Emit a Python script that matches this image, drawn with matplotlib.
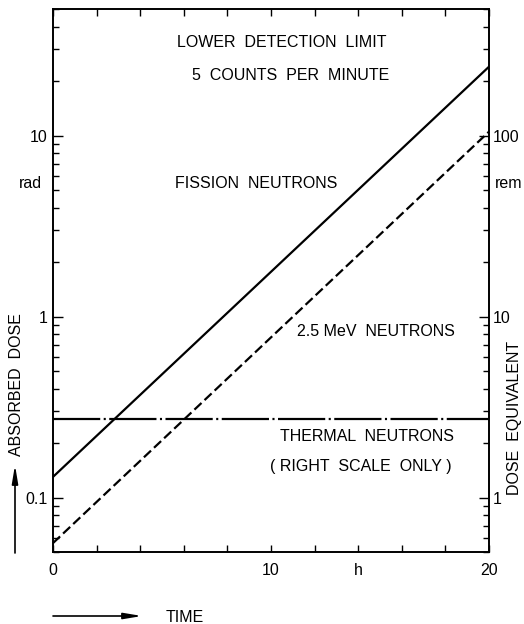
import matplotlib
matplotlib.use("Agg")
import matplotlib.pyplot as plt
from matplotlib.patches import FancyArrowPatch
from matplotlib.ticker import FixedLocator, LogLocator, NullFormatter, NullLocator

plt.rcParams['font.family'] = ['Liberation Sans', 'DejaVu Sans']
plt.rcParams['lines.scale_dashes'] = False

# time in hours, dose in rad (left) or rem (right)
hours = [0, 20]
fission_rad = [0.13, 24.0]
mev25_rad = [0.056, 10.5]
thermal_rem = [2.7, 2.7]

x_ticks = [0, 2, 4, 6, 8, 10, 12, 14, 16, 18, 20]
x_labels = ['0', '', '', '', '', '10', '', 'h', '', '', '20']
rad_ticks = [0.1, 1, 10]
rad_labels = ['0.1', '1', '10']
rem_ticks = [1, 10, 100]
rem_labels = ['1', '10', '100']

W, H = 524, 624
fig = plt.figure(figsize=(W / 100, H / 100), dpi=100)
ax = fig.add_axes([53 / W, 1 - 552 / H, 436 / W, 543 / H])
ax2 = ax.twinx()

fs = 11.5

ax.plot(hours, fission_rad, color='black', lw=1.6)
ax.plot(hours, mev25_rad, color='black', lw=1.6, dashes=(7, 3))
ax2.plot(hours, thermal_rem, color='black', lw=1.6, dashes=(34, 2.5, 1.5, 2.5))

ax.set_xlim(0, 20)
ax.set_yscale('log')
ax.set_ylim(0.05, 50)
ax2.set_yscale('log')
ax2.set_ylim(0.5, 500)

ax.xaxis.set_major_locator(FixedLocator(x_ticks))
ax.set_xticklabels(x_labels)
ax.xaxis.set_minor_locator(NullLocator())
ax.set_yticks(rad_ticks)
ax.set_yticklabels(rad_labels)
ax.yaxis.set_minor_locator(LogLocator(subs=range(2, 10)))
ax.yaxis.set_minor_formatter(NullFormatter())
ax2.set_yticks(rem_ticks)
ax2.set_yticklabels(rem_labels)
ax2.yaxis.set_minor_locator(LogLocator(subs=range(2, 10)))
ax2.yaxis.set_minor_formatter(NullFormatter())

ax.tick_params(axis='x', which='major', direction='in', top=True, length=5,
               width=1, labelsize=fs, pad=8)
ax.tick_params(axis='y', which='major', direction='in', length=7, width=1,
               labelsize=fs, pad=4)
ax.tick_params(axis='y', which='minor', direction='in', length=4, width=1)
ax2.tick_params(axis='y', which='major', direction='in', length=7, width=1,
                labelsize=fs, pad=3)
ax2.tick_params(axis='y', which='minor', direction='in', length=4, width=1)
for a in (ax, ax2):
    for s in a.spines.values():
        s.set_linewidth(1.2)

# curve labels
ax.text(10.5, 32.6, 'LOWER  DETECTION  LIMIT', ha='center', va='center', fontsize=fs)
ax.text(10.9, 21.4, '5  COUNTS  PER  MINUTE', ha='center', va='center', fontsize=fs)
ax.text(9.3, 5.4, 'FISSION  NEUTRONS', ha='center', va='center', fontsize=fs)
ax.text(14.8, 0.83, '2.5 MeV  NEUTRONS', ha='center', va='center', fontsize=fs)
ax.text(14.4, 0.217, 'THERMAL  NEUTRONS', ha='center', va='center', fontsize=fs)
ax.text(14.1, 0.148, '( RIGHT  SCALE  ONLY )', ha='center', va='center', fontsize=fs)

# units and axis titles
fig.text(30 / W, 1 - 183 / H, 'rad', ha='center', va='center', fontsize=fs)
fig.text(509 / W, 1 - 183 / H, 'rem', ha='center', va='center', fontsize=fs)
fig.text(17 / W, 1 - 385 / H, 'ABSORBED  DOSE', rotation=90, ha='center',
         va='center', fontsize=fs)
fig.text(514 / W, 1 - 418 / H, 'DOSE  EQUIVALENT', rotation=90, ha='center',
         va='center', fontsize=fs)
fig.text(166 / W, 1 - 617 / H, 'TIME', ha='left', va='center', fontsize=fs)

arrow = dict(arrowstyle='-|>,head_length=0.9,head_width=0.15', color='black',
             lw=1.2, shrinkA=0, shrinkB=0)
fig.add_artist(FancyArrowPatch(
    (15 / W, 1 - 553 / H), (15 / W, 1 - 465 / H), transform=fig.transFigure,
    mutation_scale=12, **arrow))
fig.add_artist(FancyArrowPatch(
    (53 / W, 1 - 616 / H), (142 / W, 1 - 616 / H), transform=fig.transFigure,
    mutation_scale=12, **arrow))

fig.savefig('out.png', dpi=100)
